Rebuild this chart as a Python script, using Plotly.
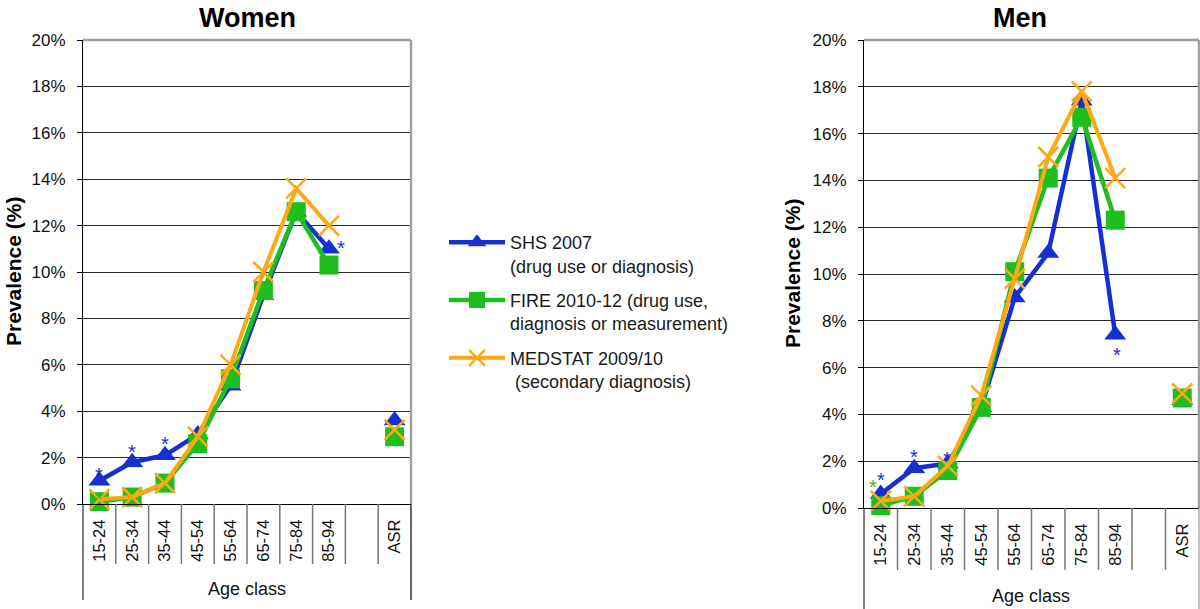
import plotly.graph_objects as go

W, H = 1200, 609

# ---------------- data ----------------
categories = ["15-24", "25-34", "35-44", "45-54", "55-64", "65-74", "75-84", "85-94", " ", "ASR"]

women_shs = [1.0, 1.8, 2.1, 3.0, 5.1, 9.0, 12.6, 11.0]
women_shs_asr = 3.6
women_fire = [0.1, 0.3, 0.9, 2.6, 5.4, 9.2, 12.6, 10.3]
women_fire_asr = 2.9
women_medstat = [0.2, 0.3, 0.9, 2.9, 6.0, 10.0, 13.6, 12.0]
women_medstat_asr = 3.2

men_shs = [0.6, 1.7, 1.9, 4.3, 9.0, 10.9, 17.4, 7.4]
men_shs_asr = 4.6
men_fire = [0.1, 0.5, 1.6, 4.3, 10.1, 14.1, 16.7, 12.3]
men_fire_asr = 4.7
men_medstat = [0.3, 0.5, 1.8, 4.8, 9.8, 15.0, 17.8, 14.1]
men_medstat_asr = 4.9

# significance flags (asterisks), by age class
women_shs_sig = ["15-24", "25-34", "35-44", "85-94"]
women_fire_sig = ["15-24"]
men_shs_sig = ["15-24", "25-34", "35-44", "85-94"]
men_fire_sig = ["15-24"]

y_ticks = [0, 2, 4, 6, 8, 10, 12, 14, 16, 18, 20]
y_tick_labels = [f"{v}%" for v in y_ticks]

series_names = [
    "SHS 2007<br>(drug use or diagnosis)",
    "FIRE 2010-12 (drug use,<br>diagnosis or measurement)",
    "MEDSTAT 2009/10<br> (secondary diagnosis)",
]

# ---------------- style ----------------
BLUE = "#1430D2"
GREEN = "#1EBE1E"
ORANGE = "#FFA814"
FONT = "Arial, Liberation Sans, sans-serif"


def px(x):
    return x / W


def py(y):
    return 1 - y / H


def full(vals, asr):
    return list(vals) + [None, asr]


fig = go.Figure()

panels = [
    dict(xa="x", ya="y", shs=(women_shs, women_shs_asr), fire=(women_fire, women_fire_asr),
         med=(women_medstat, women_medstat_asr), legend=True),
    dict(xa="x2", ya="y2", shs=(men_shs, men_shs_asr), fire=(men_fire, men_fire_asr),
         med=(men_medstat, men_medstat_asr), legend=False),
]

for p in panels:
    fig.add_trace(go.Scatter(
        x=categories, y=full(*p["shs"]), name=series_names[0], legendgroup="shs",
        showlegend=p["legend"], mode="lines+markers", connectgaps=False, cliponaxis=False,
        line=dict(color=BLUE, width=4.5),
        marker=dict(symbol="triangle-up", size=19, color=BLUE),
        xaxis=p["xa"], yaxis=p["ya"]))
    fig.add_trace(go.Scatter(
        x=categories, y=full(*p["fire"]), name=series_names[1], legendgroup="fire",
        showlegend=p["legend"], mode="lines+markers", connectgaps=False, cliponaxis=False,
        line=dict(color=GREEN, width=4.5),
        marker=dict(symbol="square", size=19, color=GREEN),
        xaxis=p["xa"], yaxis=p["ya"]))
    fig.add_trace(go.Scatter(
        x=categories, y=full(*p["med"]), name=series_names[2], legendgroup="med",
        showlegend=p["legend"], mode="lines+markers", connectgaps=False, cliponaxis=False,
        line=dict(color=ORANGE, width=4),
        marker=dict(symbol="x-thin", size=20, color=ORANGE, line=dict(width=2.5, color=ORANGE)),
        xaxis=p["xa"], yaxis=p["ya"]))

axis_common_x = dict(
    type="category", categoryorder="array", categoryarray=categories, range=[-0.5, 9.5],
    showline=True, linecolor="black", linewidth=1, showgrid=False, zeroline=False,
    ticks="", tickangle=-90, ticklabelstandoff=8, automargin=False,
    tickfont=dict(family=FONT, size=16.5, color="#111"), fixedrange=True)
axis_common_y = dict(
    range=[0, 20], tickvals=y_ticks, ticktext=y_tick_labels, showline=True, linecolor="black",
    linewidth=1, showgrid=True, gridcolor="#2a2a2a", gridwidth=1, zeroline=False,
    ticks="outside", ticklen=5, tickcolor="black", ticklabelstandoff=8, automargin=False,
    tickfont=dict(family=FONT, size=17, color="#111"), fixedrange=True)

# panel geometry (pixels)
geo = {
    "women": dict(xa="x", ya="y", left=83, right=411, top=40, bottom=504, div_end=564, ext_end=600,
                  right_ext_color="black", title_x=247, ytitle_x=13, ytitle_y=272, xtitle_x=247, xtitle_y=589),
    "men": dict(xa="x2", ya="y2", left=864, right=1199, top=40, bottom=508, div_end=570, ext_end=615,
                right_ext_color="#999", title_x=1020, ytitle_x=792, ytitle_y=274, xtitle_x=1031, xtitle_y=596),
}

fig.update_layout(
    xaxis=dict(domain=[px(83), px(411)], anchor="y", **axis_common_x),
    yaxis=dict(domain=[py(504), py(40)], anchor="x", **axis_common_y),
    xaxis2=dict(domain=[px(864), px(1199)], anchor="y2", **axis_common_x),
    yaxis2=dict(domain=[py(508), py(40)], anchor="x2", **axis_common_y),
)

shapes = []
annotations = []
for key, g in geo.items():
    xa, ya = g["xa"], g["ya"]
    # category dividers below the axis
    for i in range(len(categories) - 1):
        shapes.append(dict(type="line", xref=xa, yref="paper", x0=i + 0.5, x1=i + 0.5,
                           y0=py(g["bottom"]), y1=py(g["div_end"]),
                           line=dict(color="#777", width=1.5)))
    # left axis extension
    shapes.append(dict(type="line", xref=f"{xa} domain", yref="paper", x0=0, x1=0,
                       y0=py(g["bottom"]), y1=py(g["ext_end"]), line=dict(color="black", width=1)))
    # right extension below axis
    shapes.append(dict(type="line", xref=f"{xa} domain", yref="paper", x0=1, x1=1,
                       y0=py(g["bottom"]), y1=py(g["ext_end"]),
                       line=dict(color=g["right_ext_color"], width=1.2)))
    # gray plot-area border: top and right
    shapes.append(dict(type="line", xref=f"{xa} domain", yref=f"{ya} domain", x0=0, x1=1, y0=1, y1=1,
                       line=dict(color="#A0A0A0", width=2.5)))
    shapes.append(dict(type="line", xref=f"{xa} domain", yref=f"{ya} domain", x0=1, x1=1, y0=0, y1=1,
                       line=dict(color="#A0A0A0", width=2.5)))
    # titles
    annotations.append(dict(text="<b>" + ("Women" if key == "women" else "Men") + "</b>",
                            xref="paper", yref="paper", x=px(g["title_x"]), y=py(18),
                            xanchor="center", yanchor="middle", showarrow=False,
                            font=dict(family=FONT, size=27, color="black")))
    annotations.append(dict(text="<b>Prevalence (%)</b>", textangle=-90,
                            xref="paper", yref="paper", x=px(g["ytitle_x"]), y=py(g["ytitle_y"]),
                            xanchor="center", yanchor="middle", showarrow=False,
                            font=dict(family=FONT, size=21, color="black")))
    annotations.append(dict(text="Age class", xref="paper", yref="paper",
                            x=px(g["xtitle_x"]), y=py(g["xtitle_y"]),
                            xanchor="center", yanchor="middle", showarrow=False,
                            font=dict(family=FONT, size=18, color="#111")))

# asterisks (significance markers), positioned on the data points with pixel offsets
star_offsets = {
    ("women", "shs", "15-24"): (0, 6), ("women", "shs", "25-34"): (0, 10),
    ("women", "shs", "35-44"): (0, 11), ("women", "shs", "85-94"): (12, 1),
    ("women", "fire", "15-24"): (0, 3),
    ("men", "shs", "15-24"): (0, 14), ("men", "shs", "25-34"): (0, 11),
    ("men", "shs", "35-44"): (-1, 5), ("men", "shs", "85-94"): (2, -20),
    ("men", "fire", "15-24"): (-8, 19),
}
star_sets = [
    ("women", "shs", women_shs, women_shs_sig, BLUE),
    ("women", "fire", women_fire, women_fire_sig, GREEN),
    ("men", "shs", men_shs, men_shs_sig, BLUE),
    ("men", "fire", men_fire, men_fire_sig, GREEN),
]
for panel, ser, vals, sig, col in star_sets:
    g = geo[panel]
    for cat in sig:
        i = categories.index(cat)
        dx, dy = star_offsets[(panel, ser, cat)]
        annotations.append(dict(text="*", xref=g["xa"], yref=g["ya"], x=cat, y=vals[i],
                                xshift=dx, yshift=dy, showarrow=False,
                                font=dict(family=FONT, size=20, color=col)))

fig.update_layout(
    width=W, height=H, autosize=False,
    margin=dict(l=0, r=0, t=0, b=0, pad=0, autoexpand=False),
    paper_bgcolor="white", plot_bgcolor="white",
    shapes=shapes, annotations=annotations,
    showlegend=True,
    legend=dict(x=px(444), y=py(224), xanchor="left", yanchor="top",
                font=dict(family=FONT, size=18, color="#1a1a1a"),
                tracegroupgap=8, valign="top", itemwidth=56,
                bgcolor="rgba(0,0,0,0)"),
    font=dict(family=FONT),
)

fig.write_html("out.html", config={"displayModeBar": False},
               post_script="document.body.style.margin='0';")
